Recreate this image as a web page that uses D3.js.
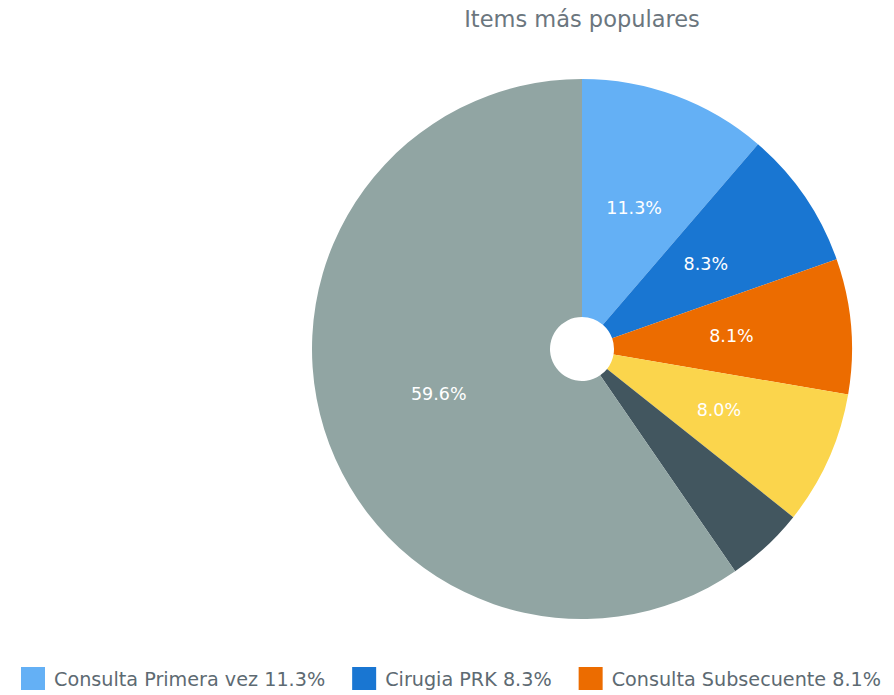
<!DOCTYPE html>
<html>
<head>
<meta charset="utf-8">
<script src="https://cdn.jsdelivr.net/npm/d3@7/dist/d3.min.js"></script>
<style>
  html, body { margin: 0; padding: 0; background: #fff; }
  svg { display: block; }
</style>
</head>
<body>
<svg id="chart" width="894" height="695"></svg>
<script>
// Share of the most requested items
const title = "Items más populares";
const categories = [
  "Consulta Primera vez",
  "Cirugia PRK",
  "Consulta Subsecuente",
  "Valoración Prequirúrgica",
  "Control Postoperatorio",
  "Otros"
];
const shares = [11.3, 8.3, 8.1, 8.0, 4.7, 59.6];
const colors = ["#64b0f5", "#1976d2", "#ec6c00", "#fbd54c", "#42565f", "#91a5a3"];
const showSliceLabel = [true, true, true, true, false, true];
const legendCount = 3; // entries that fit on the single legend row

const svg = d3.select("#chart");
const cx = 582, cy = 349, outerR = 270, innerR = 32;
const fontFamily = "'DejaVu Sans', Verdana, sans-serif";

const data = categories.map((c, i) => ({ name: c, value: shares[i], color: colors[i], label: showSliceLabel[i] }));

// Title
svg.append("text")
  .attr("x", cx)
  .attr("y", 27)
  .attr("text-anchor", "middle")
  .attr("font-family", fontFamily)
  .attr("font-size", 22.5)
  .attr("fill", "#6b767e")
  .text(title);

// Pie, clockwise from 12 o'clock
const pie = d3.pie().value(d => d.value).sort(null);
const arc = d3.arc().innerRadius(innerR).outerRadius(outerR);
const labelArc = d3.arc().innerRadius(150).outerRadius(150);

const g = svg.append("g").attr("transform", `translate(${cx},${cy})`);
const arcs = pie(data);

g.selectAll("path.slice")
  .data(arcs)
  .join("path")
  .attr("class", "slice")
  .attr("d", arc)
  .attr("fill", d => d.data.color);

g.selectAll("text.pct")
  .data(arcs.filter(d => d.data.label))
  .join("text")
  .attr("class", "pct")
  .attr("transform", d => `translate(${labelArc.centroid(d)})`)
  .attr("text-anchor", "middle")
  .attr("dominant-baseline", "central")
  .attr("font-family", fontFamily)
  .attr("font-size", 17.5)
  .attr("fill", "#ffffff")
  .text(d => d.data.value.toFixed(1) + "%");

// Legend row along the bottom
const legend = svg.append("g").attr("transform", "translate(21,0)");
let x = 0;
data.slice(0, legendCount).forEach(d => {
  const item = legend.append("g").attr("transform", `translate(${x},0)`);
  item.append("rect")
    .attr("x", 0).attr("y", 667)
    .attr("width", 24).attr("height", 23)
    .attr("fill", d.color);
  const t = item.append("text")
    .attr("x", 33)
    .attr("y", 686)
    .attr("font-family", fontFamily)
    .attr("font-size", 19.2)
    .attr("fill", "#5d6a72")
    .text(`${d.name} ${d.value.toFixed(1)}%`);
  const w = t.node().getComputedTextLength();
  x += 33 + w + 27;
});
</script>
</body>
</html>
